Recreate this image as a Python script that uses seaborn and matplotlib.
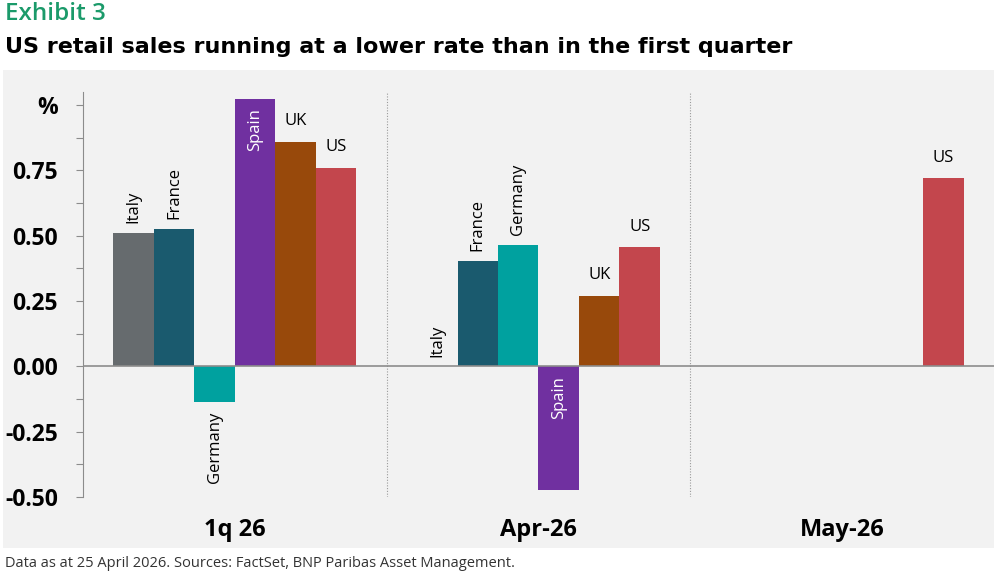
import numpy as np
import pandas as pd
import seaborn as sns
import matplotlib.pyplot as plt
from matplotlib.patches import Rectangle

# Retail sales growth, %
periods = ['1q 26', 'Apr-26', 'May-26']
countries = ['Italy', 'France', 'Germany', 'Spain', 'UK', 'US']
italy = [0.51, 0.0, np.nan]
france = [0.525, 0.405, np.nan]
germany = [-0.135, 0.465, np.nan]
spain = [1.025, -0.475, np.nan]
uk = [0.86, 0.27, np.nan]
us = [0.76, 0.455, 0.72]

colors = ['#666b6e', '#1a5a6e', '#00a19f', '#7030a0', '#98490b', '#c3464d']

ytick_vals = [-0.5, -0.25, 0.0, 0.25, 0.5, 0.75, 1.0]
ytick_labels = ['-0.50', '-0.25', '0.00', '0.25', '0.50', '0.75', '%']

rows = []
for name, vals in zip(countries, [italy, france, germany, spain, uk, us]):
    for p, v in zip(periods, vals):
        rows.append({'period': p, 'country': name, 'value': v})
df = pd.DataFrame(rows).dropna()

sns.set_style('white')
plt.rcParams['font.family'] = ['Open Sans', 'DejaVu Sans']
plt.rcParams['text.color'] = 'black'

bg = '#f2f2f2'
fig = plt.figure(figsize=(9.94, 5.74), dpi=100)
fig.patches.append(Rectangle((0.003, 0.045), 0.997, 0.833, transform=fig.transFigure,
                             facecolor=bg, edgecolor='none', zorder=-1))
ax = fig.add_axes([0.0835, 0.1341, 0.9165, 0.7056])
ax.set_facecolor(bg)

sns.barplot(data=df, x='period', y='value', hue='country', order=periods,
            hue_order=countries, palette=colors, width=0.8, saturation=1,
            linewidth=0, legend=False, ax=ax)

ax.set_ylim(-0.5, 1.05)
ax.set_xlim(-0.5, 2.5)

# bar labels
lab = dict(fontsize=12)
for name, cont in zip(countries, ax.containers):
    for bar in cont:
        h = bar.get_height()
        if np.isnan(h):
            continue
        xc = bar.get_x() + bar.get_width() / 2
        if name in ('Italy', 'France', 'Germany'):
            if h >= 0:
                ax.annotate(name, (xc, h), xytext=(0, 7), textcoords='offset points',
                            rotation=90, ha='center', va='bottom', color='black', **lab)
            else:
                ax.annotate(name, (xc, h), xytext=(0, -7), textcoords='offset points',
                            rotation=90, ha='center', va='top', color='black', **lab)
        elif name == 'Spain':
            ax.annotate(name, (xc, max(h, 0)), xytext=(0, -7), textcoords='offset points',
                        rotation=90, ha='center', va='top', color='white', **lab)
        else:
            ax.annotate(name, (xc, h), xytext=(0, 9), textcoords='offset points',
                        ha='center', va='bottom', color='black', **lab)

# zero line and group separators
ax.axhline(0, color='#8c8c8c', lw=1.2, zorder=1)
for xv in [0.5, 1.5]:
    ax.axvline(xv, color='#9a9a9a', lw=0.8, ls=(0, (1, 1.5)), zorder=0)

for s in ['top', 'right', 'bottom']:
    ax.spines[s].set_visible(False)
ax.spines['left'].set_color('#8c8c8c')
ax.spines['left'].set_linewidth(0.8)

minor = [v + 0.125 for v in ytick_vals[:-1]]
ax.set_yticks(ytick_vals)
ax.set_yticklabels(ytick_labels, fontsize=16.5, fontweight='bold')
ax.set_yticks(minor, minor=True)
ax.tick_params(axis='y', which='both', length=5, width=0.8, color='#8c8c8c',
               labelcolor='black', left=True, pad=13)
ax.tick_params(axis='x', length=0, pad=15, labelcolor='black')
ax.set_xticks(range(len(periods)))
ax.set_xticklabels(periods, fontsize=17, fontweight='bold')
ax.set_xlabel('')
ax.set_ylabel('')

fig.text(0.005, 0.975, 'Exhibit 3', fontsize=17.5, fontweight='semibold',
         color='#1b9a6a', va='center')
fig.text(0.005, 0.918, 'US retail sales running at a lower rate than in the first quarter',
         fontsize=16, fontweight='bold', va='center', family=['DejaVu Sans'])
fig.text(0.005, 0.018, 'Data as at 25 April 2026. Sources: FactSet, BNP Paribas Asset Management.',
         fontsize=10.5, color='#333333', va='center')

fig.savefig('out.png', dpi=100)
